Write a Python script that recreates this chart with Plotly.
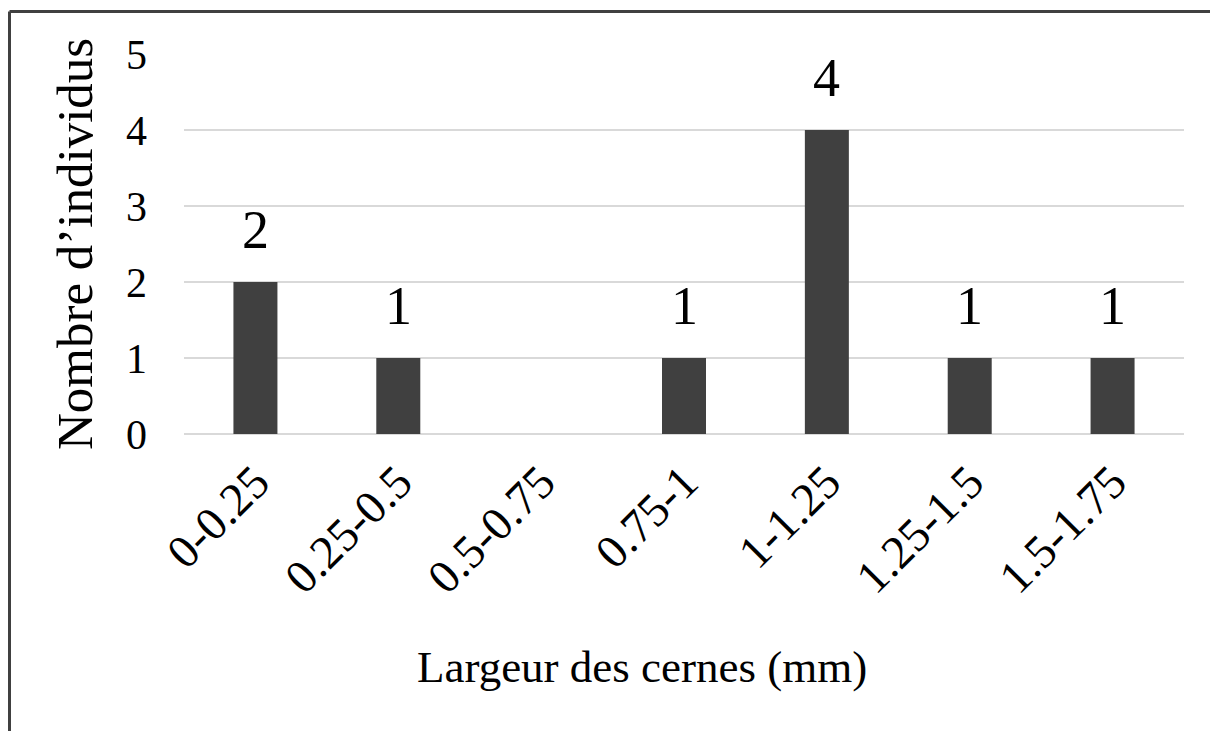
import plotly.graph_objects as go

# Ring-width classes and number of trees in each class
classes = ["0-0.25", "0.25-0.5", "0.5-0.75", "0.75-1", "1-1.25", "1.25-1.5", "1.5-1.75"]
counts = [2, 1, 0, 1, 4, 1, 1]
y_ticks = [0, 1, 2, 3, 4, 5]

FONT = "Liberation Serif"
BAR = "#404040"
GRID = "#d9d9d9"

fig = go.Figure()
fig.add_trace(go.Bar(
    x=classes,
    y=counts,
    marker=dict(color=BAR, line=dict(width=0)),
    hoverinfo="x+y",
))

# Value labels above each non-empty bar
for c, v in zip(classes, counts):
    if v:
        fig.add_annotation(
            x=c, y=v, xref="x", yref="y",
            text=str(v), showarrow=False,
            yanchor="bottom", yshift=20,
            font=dict(family=FONT, size=54, color="#000000"),
        )

# Axis titles
fig.add_annotation(
    x=-0.109, y=0.5, xref="paper", yref="paper",
    text="Nombre d\u2019individus", showarrow=False, textangle=-90,
    xanchor="center", yanchor="middle",
    font=dict(family=FONT, size=51, color="#000000"),
)
fig.add_annotation(
    x=0.458, y=-0.613, xref="paper", yref="paper",
    text="Largeur des cernes (mm)", showarrow=False,
    xanchor="center", yanchor="middle",
    font=dict(family=FONT, size=45, color="#000000"),
)

# Chart frame (top and left edges)
frame = dict(color="#404040", width=3)
fig.add_shape(type="line", xref="paper", yref="paper",
              x0=-0.1745, x1=1.2, y0=1.1118, y1=1.1118, line=frame)
fig.add_shape(type="line", xref="paper", yref="paper",
              x0=-0.1745, x1=-0.1745, y0=-1.0, y1=1.1118, line=frame)

fig.update_layout(
    width=1210, height=731,
    margin=dict(l=184, r=26, t=54, b=297),
    paper_bgcolor="#ffffff", plot_bgcolor="#ffffff",
    bargap=0.692,
    showlegend=False,
    font=dict(family=FONT, color="#000000"),
)
fig.update_xaxes(
    type="category",
    tickangle=-45,
    tickfont=dict(family=FONT, size=47, color="#000000"),
    showgrid=False, showline=False, zeroline=False,
    ticks="", ticklabelstandoff=10,
)
fig.update_yaxes(
    range=[0, 5],
    tickvals=y_ticks,
    tickfont=dict(family=FONT, size=42, color="#000000"),
    showgrid=True, gridcolor=GRID, gridwidth=2,
    zeroline=True, zerolinecolor=GRID, zerolinewidth=2,
    showline=False, ticks="", ticklabelstandoff=36,
)

fig.write_html("out.html")
